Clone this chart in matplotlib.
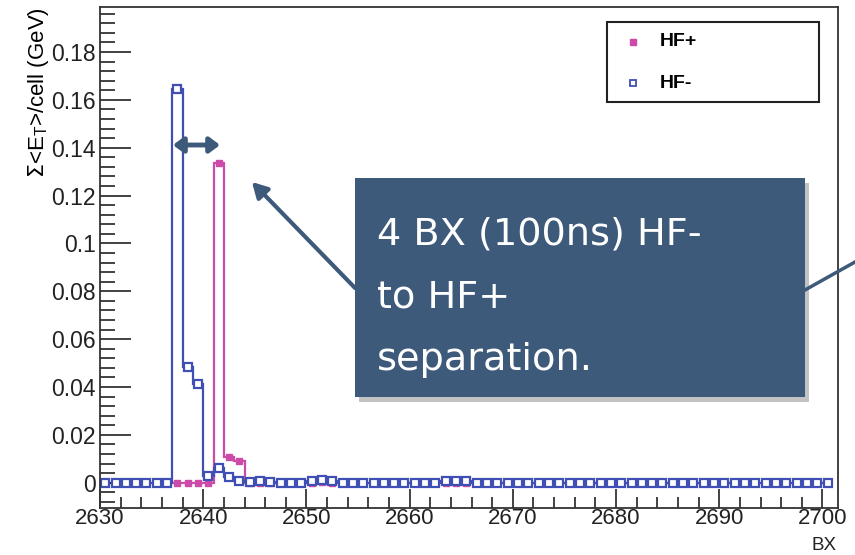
import numpy as np
import matplotlib
matplotlib.use('Agg')
import matplotlib.pyplot as plt
from matplotlib.patches import Rectangle
from matplotlib.ticker import MultipleLocator

# bunch crossings (bin low edges 2630..2700)
bx_edges = np.arange(2630, 2702)
hf_minus = [0, 0, 0, 0, 0, 0, 0, 0.1647, 0.0483, 0.0413,
            0.0026, 0.0062, 0.0022, 0.0006, 0.0004, 0.0006, 0.0003, 0, 0, 0,
            0.0008, 0.0013, 0.0007, 0, 0, 0, 0, 0, 0, 0,
            0, 0, 0, 0.0007, 0.0009, 0.0006, 0, 0, 0, 0,
            0, 0, 0, 0, 0, 0, 0, 0, 0, 0,
            0, 0, 0, 0, 0, 0, 0, 0, 0, 0,
            0, 0, 0, 0, 0, 0, 0, 0, 0, 0,
            0]
hf_plus = [0, 0, 0, 0, 0, 0, 0, 0, 0, 0,
           0, 0.1334, 0.0107, 0.0089, 0, 0, 0, 0, 0, 0,
           0, 0.0003, 0, 0, 0, 0, 0, 0, 0, 0,
           0, 0, 0, 0, 0, 0, 0, 0, 0, 0,
           0, 0, 0, 0, 0, 0, 0, 0, 0, 0,
           0, 0, 0, 0, 0, 0, 0, 0, 0, 0,
           0, 0, 0, 0, 0, 0, 0, 0, 0, 0,
           0]
callout = ['4 BX (100ns) HF-', 'to HF+', 'separation.']

blue = '#3f4fb4'
pink = '#cc4aa8'
slate = '#3d5a7a'

plt.rcParams['font.family'] = ['Liberation Sans', 'DejaVu Sans']
fig = plt.figure(figsize=(8.55, 5.55), dpi=100)
ax = fig.add_axes([0.117, 0.085, 0.863, 0.902])

centers = bx_edges[:-1] + 0.5
ax.stairs(hf_plus, bx_edges, color=pink, lw=1.6)
ax.plot(centers, hf_plus, 's', color=pink, ms=4, mec=pink)
ax.stairs(hf_minus, bx_edges, color=blue, lw=1.6)
ax.plot(centers, hf_minus, 's', color=blue, ms=5.5, mfc='white', mec=blue, mew=1.6)

ax.set_xlim(2630, 2701.5)
ax.set_ylim(-0.0105, 0.1987)
ax.xaxis.set_major_locator(MultipleLocator(10))
ax.xaxis.set_minor_locator(MultipleLocator(2))
ax.yaxis.set_major_locator(MultipleLocator(0.02))
ax.yaxis.set_minor_locator(MultipleLocator(0.004))
ax.tick_params(which='both', direction='in', colors='#222222')
ax.tick_params(axis='y', which='major', length=22, width=1.2, pad=3, labelsize=16.5)
ax.tick_params(axis='y', which='minor', length=11, width=1.2)
ax.tick_params(axis='x', which='major', length=14, width=1.2, pad=0, labelsize=16)
ax.tick_params(axis='x', which='minor', length=8, width=1.2)
ax.set_yticks(np.arange(0, 0.19, 0.02))
ax.set_yticklabels(['0', '0.02', '0.04', '0.06', '0.08', '0.1', '0.12', '0.14', '0.16', '0.18'])
for s in ax.spines.values():
    s.set_linewidth(1.3)
    s.set_color('#333333')
ax.set_ylabel(r'$\Sigma$<E$_{\mathregular{T}}$>/cell (GeV)', loc='top', fontsize=16, labelpad=0)
fig.text(836 / 855, 4.5 / 555, 'BX', fontsize=13.5, ha='right', va='baseline', color='#222222')

# legend
fig.patches.append(Rectangle((607, 555 - 102), 212, 80, transform=None,
                             fill=False, ec='#222222', lw=1.5))
fig.lines.append(plt.Line2D([633], [555 - 42], transform=None, marker='s',
                            ms=4, color=pink, ls='none'))
fig.lines.append(plt.Line2D([633], [555 - 83], transform=None, marker='s',
                            ms=5, mfc='white', mec=blue, mew=1.3, ls='none'))
fig.text(660 / 855, 1 - 42 / 555, 'HF+', fontsize=14, fontweight='bold', va='center')
fig.text(660 / 855, 1 - 83 / 555, 'HF-', fontsize=14, fontweight='bold', va='center')

# callout box with shadow
fig.patches.append(Rectangle((359, 555 - 402), 450, 219, transform=None,
                             fc='#888888', alpha=0.5, ec='none'))
fig.patches.append(Rectangle((355, 555 - 397), 450, 219, transform=None,
                             fc=slate, ec='none'))
for txt, yb in zip(callout, [245, 307, 370]):
    fig.text(377 / 855, 1 - yb / 555, txt, fontsize=27.5, color='white',
             va='baseline', family=['DejaVu Sans'])

# arrows
ax.annotate('', xy=(250, 555 - 180), xycoords='figure pixels',
            xytext=(357, 555 - 290), textcoords='figure pixels',
            arrowprops=dict(arrowstyle='-|>,head_length=0.9,head_width=0.5',
                            color=slate, lw=3))
ax.annotate('', xy=(173, 555 - 145), xycoords='figure pixels',
            xytext=(220, 555 - 145), textcoords='figure pixels',
            arrowprops=dict(arrowstyle='<|-|>,head_length=0.6,head_width=0.45',
                            color=slate, lw=3.5, shrinkA=0, shrinkB=0))
fig.lines.append(plt.Line2D([805, 855], [555 - 290, 555 - 262], transform=None,
                            color=slate, lw=2.5))

fig.savefig('out.png', dpi=100)
